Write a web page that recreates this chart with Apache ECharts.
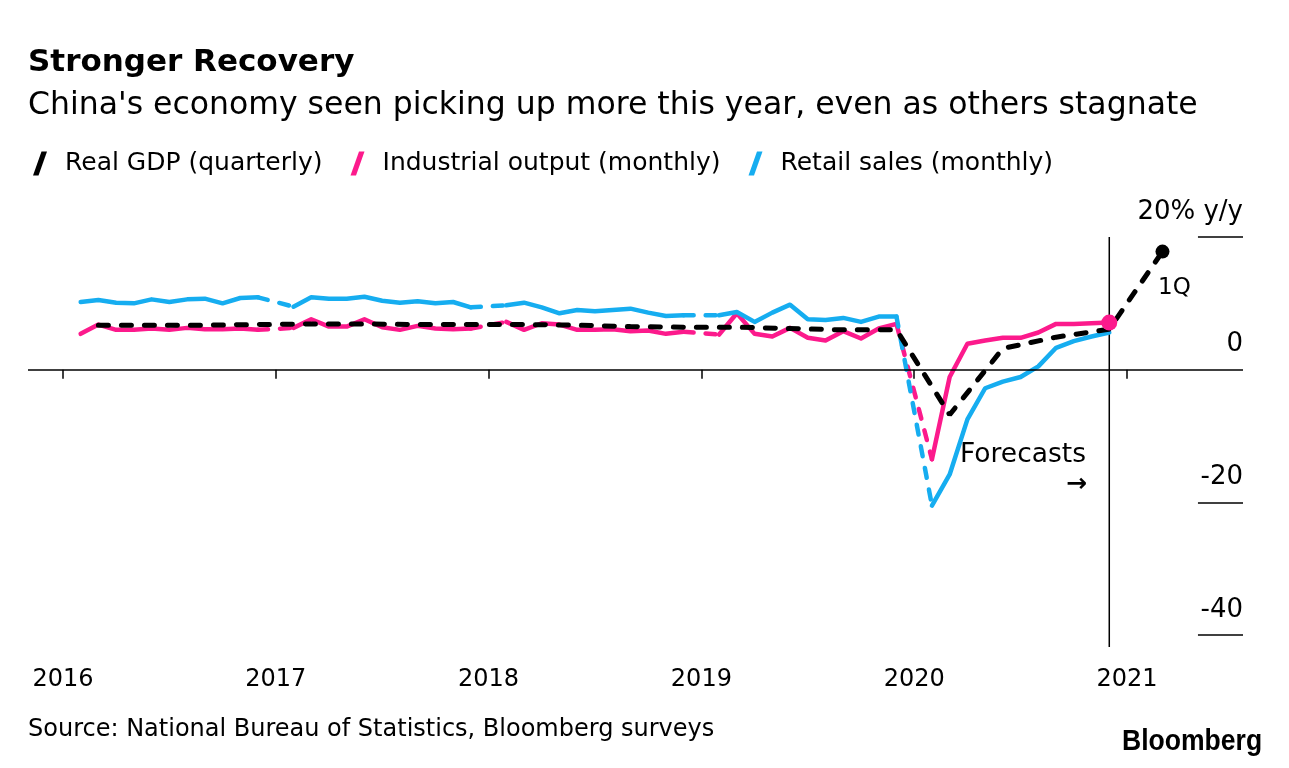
<!DOCTYPE html>
<html>
<head>
<meta charset="utf-8">
<script src="https://cdn.jsdelivr.net/npm/echarts@6/dist/echarts.min.js"></script>
<style>
  html, body { margin: 0; padding: 0; background: #fff; }
  #chart { width: 1289px; height: 768px; }
</style>
</head>
<body>
<div id="chart"></div>
<script>
// ---------------- DATA ----------------
const yearLabels = ['2016', '2017', '2018', '2019', '2020', '2021'];
const monthlyStart = 2016; // index 0 = Jan 2016, Jan values are combined into Feb (null)

const industrialOutput = [
  null, 5.4, 6.8, 6.0, 6.0, 6.2, 6.0, 6.3, 6.1, 6.1, 6.2, 6.0,
  null, 6.3, 7.6, 6.5, 6.5, 7.6, 6.4, 6.0, 6.6, 6.2, 6.1, 6.2,
  null, 7.2, 6.0, 7.0, 6.8, 6.0, 6.0, 6.1, 5.8, 5.9, 5.4, 5.7,
  null, 5.3, 8.5, 5.4, 5.0, 6.3, 4.8, 4.4, 5.8, 4.7, 6.2, 6.9,
  null, -13.5, -1.1, 3.9, 4.4, 4.8, 4.8, 5.6, 6.9, 6.9, 7.0, 7.1
];
const retailSales = [
  null, 10.2, 10.5, 10.1, 10.0, 10.6, 10.2, 10.6, 10.7, 10.0, 10.8, 10.9,
  null, 9.5, 10.9, 10.7, 10.7, 11.0, 10.4, 10.1, 10.3, 10.0, 10.2, 9.4,
  null, 9.7, 10.1, 9.4, 8.5, 9.0, 8.8, 9.0, 9.2, 8.6, 8.1, 8.2,
  null, 8.2, 8.7, 7.2, 8.6, 9.8, 7.6, 7.5, 7.8, 7.2, 8.0, 8.0,
  null, -20.5, -15.8, -7.5, -2.8, -1.8, -1.1, 0.5, 3.3, 4.3, 5.0, 5.6
];
const gdpQuarters = [
  '2016Q1','2016Q2','2016Q3','2016Q4',
  '2017Q1','2017Q2','2017Q3','2017Q4',
  '2018Q1','2018Q2','2018Q3','2018Q4',
  '2019Q1','2019Q2','2019Q3','2019Q4',
  '2020Q1','2020Q2','2020Q3','2020Q4',
  '2021Q1'
];
const gdpValues = [
  6.7, 6.7, 6.7, 6.8,
  6.9, 6.9, 6.8, 6.8,
  6.8, 6.7, 6.5, 6.4,
  6.4, 6.2, 6.0, 6.0,
  -6.8, 3.2, 4.9, 6.1,
  17.8
];
const yTickValues = [20, -20, -40];
const forecastStartMonth = 59; // Dec 2020

// ---------------- STYLE ----------------
const PINK = '#fc1a8c';
const BLUE = '#16adf0';
const FONT = 'DejaVu Sans';
const X_MIN = -1.97, X_MAX = 66.54, Y_TICK_FROM = 64;

// ---------------- BUILD ----------------
function solidData(arr) {
  return arr.map((v, i) => [i, v == null ? '-' : v]);
}
function connectorData(arr) {
  const out = [];
  arr.forEach((v, i) => {
    if (v == null && i > 0 && i < arr.length - 1) {
      out.push([i - 1, arr[i - 1]], [i + 1, arr[i + 1]], [i + 1.5, '-']);
    }
  });
  return out;
}
const gdpData = gdpQuarters.map((q, i) => {
  const y = +q.slice(0, 4), n = +q.slice(5);
  const x = (y - monthlyStart) * 12 + n * 3 - 1;
  const item = { value: [x, gdpValues[i]] };
  if (i === gdpQuarters.length - 1) {
    item.symbol = 'circle';
    item.symbolSize = 14;
    item.itemStyle = { color: '#000' };
    item.label = {
      show: true, formatter: '1Q', position: 'bottom', distance: 4,
      offset: [12, 14], fontSize: 23, fontFamily: FONT, color: '#000'
    };
  }
  return item;
});
const yearTicks = yearLabels.map(y => (+y - monthlyStart) * 12);
const lastIdx = industrialOutput.length - 1;

const refLines = [{ yAxis: 0 }];
yTickValues.forEach(v => refLines.push([{ coord: [Y_TICK_FROM, v] }, { coord: [X_MAX, v] }]));

const chart = echarts.init(document.getElementById('chart'));
const option = {
  animation: false,
  backgroundColor: '#fff',
  textStyle: { fontFamily: FONT },
  grid: { left: 28, right: 46, top: 237, bottom: 133, containLabel: false },
  legend: {
    left: 28, top: 146,
    data: ['Real GDP (quarterly)', 'Industrial output (monthly)', 'Retail sales (monthly)'],
    icon: 'path://M0,24 L5.5,24 L14,0 L8.5,0 Z',
    itemWidth: 14, itemHeight: 24, itemGap: 28,
    itemStyle: { borderWidth: 0 },
    textStyle: { fontSize: 25, fontFamily: FONT, color: '#000', padding: [0, 0, 0, 13] },
    selectedMode: false
  },
  xAxis: {
    type: 'value', min: X_MIN, max: X_MAX, offset: 7,
    axisLine: { show: false }, splitLine: { show: false },
    axisTick: { show: true, customValues: yearTicks, length: 9, lineStyle: { color: '#000', width: 1.5 } },
    axisLabel: {
      customValues: yearTicks, formatter: v => String(monthlyStart + v / 12),
      fontSize: 24, fontFamily: FONT, color: '#000', margin: 26
    }
  },
  yAxis: {
    type: 'value', position: 'right', min: -40, max: 20, interval: 20,
    axisLine: { show: false }, splitLine: { show: false },
    axisTick: { show: false },
    axisLabel: {
      inside: true, margin: 0, align: 'right', verticalAlign: 'bottom',
      padding: [0, 0, 12, 0], fontSize: 26, fontFamily: FONT, color: '#000',
      formatter: v => v === 20 ? '20% y/y' : String(v)
    }
  },
  series: [
    {
      name: 'axes-lines', type: 'line', data: [], z: 1, silent: true,
      markLine: {
        symbol: 'none', silent: true, label: { show: false }, animation: false,
        lineStyle: { color: '#000', width: 1.5, type: 'solid' },
        emphasis: { disabled: true },
        data: refLines
      }
    },
    {
      name: 'Industrial output (monthly)', type: 'line', z: 2,
      data: solidData(industrialOutput), showSymbol: false, connectNulls: false,
      color: PINK, lineStyle: { color: PINK, width: 4.5, cap: 'round', join: 'round' }
    },
    {
      name: 'Industrial output gap', type: 'line', z: 2,
      data: connectorData(industrialOutput), showSymbol: false, connectNulls: false,
      color: PINK, lineStyle: { color: PINK, width: 4.5, type: [10, 12], cap: 'round' }
    },
    {
      name: 'Retail sales (monthly)', type: 'line', z: 3,
      data: solidData(retailSales), showSymbol: false, connectNulls: false,
      color: BLUE, lineStyle: { color: BLUE, width: 4.5, cap: 'round', join: 'round' }
    },
    {
      name: 'Retail sales gap', type: 'line', z: 3,
      data: connectorData(retailSales), showSymbol: false, connectNulls: false,
      color: BLUE, lineStyle: { color: BLUE, width: 4.5, type: [10, 12], cap: 'round' }
    },
    {
      name: 'Real GDP (quarterly)', type: 'line', z: 4,
      data: gdpData, symbol: 'none', showSymbol: true,
      color: '#000', lineStyle: { color: '#000', width: 5, type: [10, 13], cap: 'round' }
    },
    {
      name: 'Industrial latest', type: 'scatter', z: 5,
      data: [[lastIdx, industrialOutput[lastIdx]]],
      symbol: 'circle', symbolSize: 16, itemStyle: { color: PINK, opacity: 1 }
    }
  ],
  graphic: [
    { id: 't1', type: 'text', left: 28, top: 47, style: { text: 'Stronger Recovery', font: 'bold 31px "DejaVu Sans"', fill: '#000' } },
    { id: 't2', type: 'text', left: 28, top: 90, style: { text: "China's economy seen picking up more this year, even as others stagnate", font: '31.5px "DejaVu Sans"', fill: '#000' } },
    { id: 't3', type: 'text', left: 28, top: 718, style: { text: 'Source: National Bureau of Statistics, Bloomberg surveys', font: '24px "DejaVu Sans"', fill: '#000' } },
    { id: 't4', type: 'text', x: 1122, y: 742, scaleX: 0.885, style: { text: 'Bloomberg', font: 'bold 30px "Liberation Sans"', fill: '#000', textVerticalAlign: 'middle', verticalAlign: 'middle' } },
    { id: 't5', type: 'text', left: 960, top: 442, style: { text: 'Forecasts', font: '26.5px "DejaVu Sans"', fill: '#000' } },
    { id: 't6', type: 'text', left: 1066, top: 472, style: { text: '\u2192', font: 'bold 25px "DejaVu Sans"', fill: '#000' } }
  ]
};
chart.setOption(option);

// forecast divider: from the top of the plot to slightly below it, placed through the axis scales
const pTop = chart.convertToPixel({ gridIndex: 0 }, [forecastStartMonth, 20]);
const pBottom = chart.convertToPixel({ gridIndex: 0 }, [forecastStartMonth, -40]);
chart.setOption({
  graphic: [{
    id: 'divider', type: 'line', silent: true, z: 1,
    shape: { x1: pTop[0], y1: pTop[1], x2: pBottom[0], y2: pBottom[1] + 12 },
    style: { stroke: '#000', lineWidth: 1.5 }
  }]
});
</script>
</body>
</html>
